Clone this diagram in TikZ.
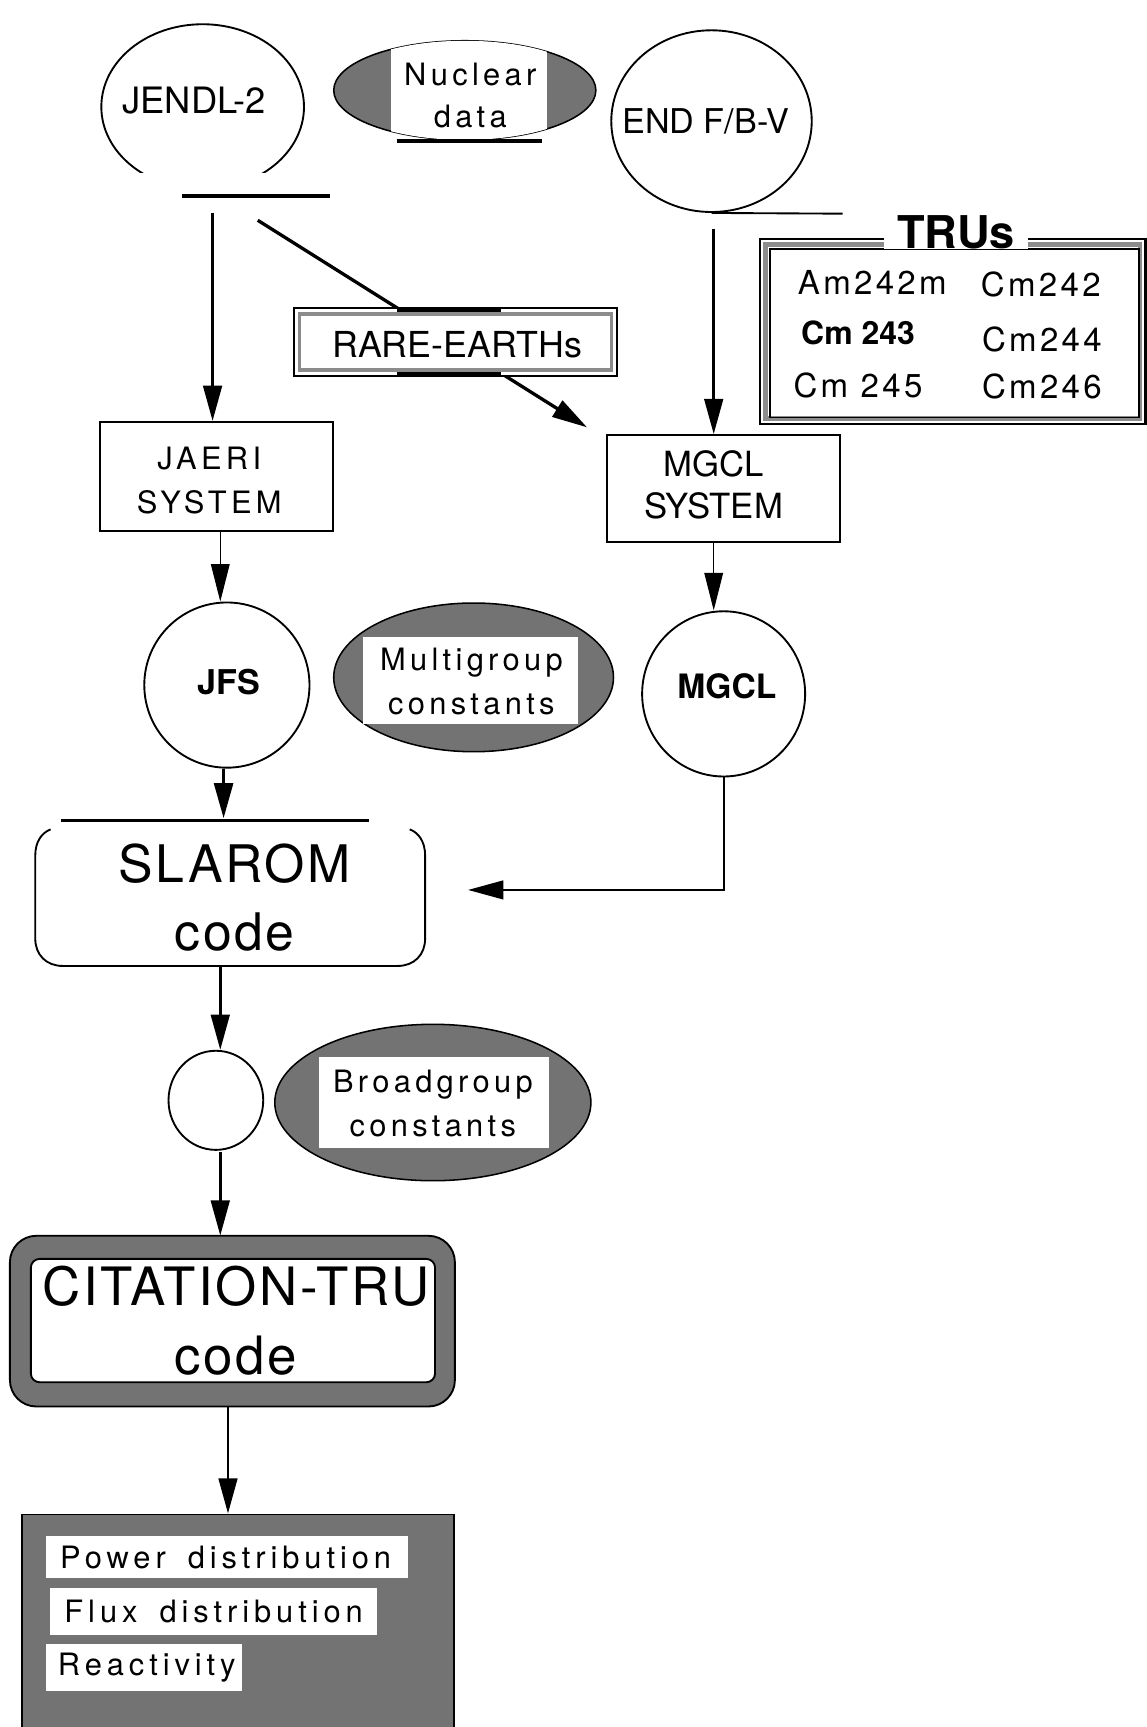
\documentclass[tikz,border=0pt]{standalone}
\usepackage{fontspec}
\setmainfont{TeX Gyre Heros}
\newfontfamily\hvsp[LetterSpace=14]{TeX Gyre Heros}
\newfontfamily\hvspw[LetterSpace=16]{TeX Gyre Heros}
\newfontfamily\hvspm[LetterSpace=10]{TeX Gyre Heros}
\newfontfamily\hvspn[LetterSpace=5]{TeX Gyre Heros}
\usetikzlibrary{arrows.meta,shapes.geometric}
\newcommand\myfs[2]{\fontsize{#1}{#2}\selectfont}
\tikzset{
 conn/.style={line width=2.4pt,-{Triangle[length=32pt,width=17pt]}},
 thinconn/.style={line width=0.9pt,-{Triangle[length=34pt,width=17pt]}},
 thickbar/.style={line width=3.5pt},
 greyfill/.style={fill=black!55},
 circ/.style={ellipse,draw,line width=1.7pt,inner sep=0pt},
 shadeell/.style={ellipse,draw,line width=1.4pt,greyfill,inner sep=0pt},
}
\begin{document}
\begin{tikzpicture}[x=1pt,y=-1pt]
\useasboundingbox (0,0) rectangle (1041,1568);
\fill[white] (0,0) rectangle (1041,1568);

% JENDL-2
\begin{scope}
 \clip (0,0) rectangle (1041,157);
 \node[circ,minimum width=184pt,minimum height=150pt] (jendl) at (184,97) {};
\end{scope}
\node[font=\myfs{33}{33}] (jendltxt) at (176,91) {JENDL-2};
\draw[thickbar] (165,178) coordinate (jbarL) -- (300,178) coordinate (jbarR);
\coordinate (jbarA) at (193,193);
\coordinate (jbarB) at (234,200);

% Nuclear data
\node[shadeell,minimum width=238pt,minimum height=90pt] (nucell) at (422,82) {};
\begin{scope}
 \clip (422,82) ellipse [x radius=119,y radius=45];
 \fill[white] (355,30) rectangle (497,135);
\end{scope}
\node[font=\hvsp\myfs{28}{38},align=center] (nuctxt) at (427,87) {Nuclear\\data};
\draw[line width=4.5pt] (360,128) -- (492,128);

% END F/B-V
\node[circ,minimum width=182pt,minimum height=165pt] (endf) at (646,110) {};
\node[font=\myfs{31}{31}] (endtxt) at (641,110) {END F/B-V};
\draw[line width=1.7pt] (endf.south) -- (765,194) coordinate (endline);

% TRUs
\draw[line width=2.5pt] (690,217) rectangle (1040,385);
\draw[black!45,line width=4pt] (695,222) rectangle (1035,380);
\draw[line width=1.5pt] (699,226) rectangle (1034,379);
\node[font=\bfseries\myfs{41}{41},fill=white,inner xsep=12pt,inner ysep=0pt] (trus) at (868,211) {TRUs};
\node[font=\hvspm\myfs{30}{30}] (am) at (792,256) {Am242m};
\node[font=\hvspm\myfs{30}{30}] (cm2) at (945,258) {Cm242};
\node[font=\bfseries\myfs{29}{29}] (cm3) at (779,302) {Cm 243};
\node[font=\hvspm\myfs{30}{30}] (cm4) at (946,308) {Cm244};
\node[font=\hvspm\myfs{30}{30}] (cm5) at (779,350) {Cm 245};
\node[font=\hvspm\myfs{30}{30}] (cm6) at (946,351) {Cm246};

% MGCL SYSTEM
\node[draw,line width=1.8pt,minimum width=212pt,minimum height=97pt] (mgsys) at (657,443.5) {};
\node[font=\myfs{31.5}{38},align=center] (mgsystxt) at (648,440) {MGCL\\SYSTEM};
\coordinate (endA) at (648,208);
\draw[conn] (endA) -- (endA |- mgsys.north);

% JAERI SYSTEM
\node[draw,line width=1.7pt,minimum width=211pt,minimum height=99pt] (jaeri) at (196.5,432.5) {};
\node[font=\hvsp\myfs{28}{40},align=center] (jaeritxt) at (190,436) {JAERI\\SYSTEM};
\draw[conn] (jbarA) -- (jbarA |- jaeri.north);

% diagonal via RARE-EARTHs
\coordinate (rdtip) at (533,388);
\draw[conn,line width=3pt] (jbarB) -- (rdtip);
\node[draw,line width=1.7pt,fill=white,minimum width=293pt,minimum height=61pt] (rare) at (413.5,310.5) {};
\draw[black!45,line width=3pt] (272,285) rectangle (555,336);
\draw[line width=5pt] (360,281) -- (455,281) (360,340) -- (455,340);
\node[font=\myfs{32.5}{32.5}] (raretxt) at (415,313) {RARE-EARTHs};

% JFS
\node[circ,minimum width=150pt,minimum height=150pt] (jfs) at (206,622) {};
\node[font=\bfseries\myfs{31}{31}] (jfstxt) at (208,619) {JFS};
\coordinate (jaeriB) at (200,482);
\draw[thinconn] (jaeriB) -- (jaeriB |- jfs.north);

% Multigroup constants
\node[shadeell,minimum width=254pt,minimum height=135pt] (mgell) at (430,615) {};
\fill[white] (330,578) rectangle (525,657);
\node[font=\hvsp\myfs{28}{40},align=center] (mgelltxt) at (428,619) {Multigroup\\constants};

% MGCL
\node[circ,minimum width=148pt,minimum height=150pt] (mgcl) at (657,630) {};
\node[font=\bfseries\myfs{30.5}{30.5}] (mgcltxt) at (660,623) {MGCL};
\coordinate (mgsysB) at (648,492);
\draw[thinconn] (mgsysB) -- (mgsysB |- mgcl.north);

% SLAROM
\draw[thickbar] (55,745) -- (335,745);
\coordinate (slbar) at (203,743);
\draw[line width=1.7pt] (46,753) .. controls (38,756) and (32,764) .. (32,777) -- (32,852) .. controls (32,867) and (42,877) .. (57,877) -- (361,877) .. controls (376,877) and (386,867) .. (386,852) -- (386,777) .. controls (386,764) and (380,756) .. (372,753);
\node[minimum width=354pt,minimum height=125pt] (slarom) at (209,814) {};
\node[font=\hvspn\myfs{47}{62},align=center] (slaromtxt) at (213,815) {SLAROM\\code};
\draw[conn,line width=3.2pt] (jfs.south -| slbar) -- (slbar);
\coordinate (slin) at (425,808);
\draw[conn,line width=1.8pt] (mgcl.south) -- (mgcl.south |- slin) -- (slin);

% small circle
\node[circ,minimum width=86pt,minimum height=90pt] (sc) at (196,999) {};
\coordinate (slB) at (200,877);
\draw[conn] (slB) -- (slB |- sc.north);

% Broadgroup constants
\node[shadeell,minimum width=287pt,minimum height=142pt] (bgell) at (393,1001) {};
\fill[white] (290,960) rectangle (498,1042);
\node[font=\hvsp\myfs{28}{40},align=center] (bgtxt) at (393,1002) {Broadgroup\\constants};

% CITATION-TRU
\draw[line width=1.7pt,greyfill,rounded corners=24pt] (9,1122) rectangle (413,1277);
\draw[line width=1.7pt,fill=white,rounded corners=8pt] (28,1143) rectangle (395,1255);
\node[minimum width=404pt,minimum height=155pt] (cit) at (211,1199.5) {};
\node[font=\hvspn\myfs{48}{62},align=center] (cittxt) at (214,1199) {CITATION-TRU\\code};
\coordinate (scB) at (200,1046);
\draw[conn] (scB) -- (scB |- cit.north);

% results
\node[draw,line width=1.7pt,greyfill,minimum width=392pt,minimum height=200pt] (res) at (216,1475) {};
\coordinate (citB) at (207,1277);
\draw[conn] (citB) -- (citB |- res.north);
\fill[white] (42,1395) rectangle (370,1433);
\fill[white] (45,1442) rectangle (342,1484);
\fill[white] (42,1493) rectangle (220,1535);
\node[font=\hvspw\myfs{28}{28},anchor=west] (pow) at (51,1414) {Power\kern20pt distribution};
\node[font=\hvspw\myfs{28}{28},anchor=west] (flux) at (55,1463) {Flux\kern20pt distribution};
\node[font=\hvspw\myfs{28}{28},anchor=west] (react) at (49,1514) {Reactivity};
\end{tikzpicture}
\end{document}
